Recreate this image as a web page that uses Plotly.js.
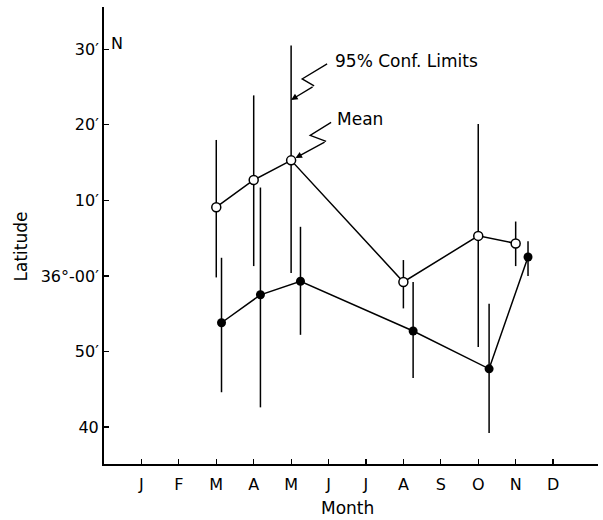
<!DOCTYPE html>
<html>
<head>
<meta charset="utf-8">
<script src="https://cdn.plot.ly/plotly-3.0.1.min.js"></script>
<style>html,body{margin:0;padding:0;background:#fff;}#chart{width:603px;height:520px;}</style>
</head>
<body>
<div id="chart"></div>
<script>
// Month positions (1 = Jan ... 12 = Dec)
var monthTicks = [1,2,3,4,5,6,7,8,9,10,11,12];
var monthLabels = ['J','F','M','A','M','J','J','A','S','O','N','D'];

// Latitude in minutes relative to 36°00'N
var latTicks = [-20,-10,0,10,20,30];
var latLabels = ['40','50\u2032','36\u00b0-00\u2032','10\u2032','20\u2032','30\u2032'];

// Open circles series
var openX     = [3, 4, 5, 8, 10, 11];
var openMean  = [9.1, 12.7, 15.3, -0.8, 5.3, 4.3];
var openUpper = [18.0, 23.9, 30.5, 2.1, 20.1, 7.2];
var openLower = [-0.2, 1.3, 0.4, -4.3, -9.4, 1.3];

// Filled circles series
var fillX     = [3.14, 4.18, 5.25, 8.26, 10.29, 11.33];
var fillMean  = [-6.2, -2.5, -0.7, -7.3, -12.3, 2.5];
var fillUpper = [2.4, 11.7, 6.5, -0.8, -3.7, 4.6];
var fillLower = [-15.4, -17.4, -7.8, -13.5, -20.8, 0.0];

function plus(m, u){ return m.map(function(v,i){ return u[i]-v; }); }
function minus(m, l){ return m.map(function(v,i){ return v-l[i]; }); }

var FONT = 'DejaVu Sans';
var W = 603, H = 520;
var margin = {l:104, r:5, t:7, b:56};
var xr = [0, 13.2], yr = [-24.9, 35.6];
var pxX = (W - margin.l - margin.r) / (xr[1]-xr[0]);
var pxY = (H - margin.t - margin.b) / (yr[1]-yr[0]);
function off(x0, y0, dx, dy){ return [x0 + dx/pxX, y0 - dy/pxY]; }

var traces = [
  {
    x: openX, y: openMean, type:'scatter', mode:'lines+markers',
    line:{color:'#000', width:1.5},
    marker:{symbol:'circle', size:9, color:'#fff', line:{color:'#000', width:1.5}},
    error_y:{type:'data', symmetric:false, array:plus(openMean, openUpper), arrayminus:minus(openMean, openLower),
             color:'#000', thickness:1.5, width:0},
    showlegend:false, hoverinfo:'skip'
  },
  {
    x: fillX, y: fillMean, type:'scatter', mode:'lines+markers',
    line:{color:'#000', width:1.5},
    marker:{symbol:'circle', size:9, color:'#000'},
    error_y:{type:'data', symmetric:false, array:plus(fillMean, fillUpper), arrayminus:minus(fillMean, fillLower),
             color:'#000', thickness:1.5, width:0},
    showlegend:false, hoverinfo:'skip'
  }
];

// Callout anchors: May open-circle mean and its upper confidence bar
var mx = openX[2], my = openMean[2];
var cy = (openMean[2] + openUpper[2]) / 2 + 0.4;

function pathFrom(x0, y0, pts){
  return pts.map(function(p, i){
    var q = off(x0, y0, p[0], p[1]);
    return (i===0 ? 'M ' : 'L ') + q[0] + ' ' + q[1];
  }).join(' ');
}

var shapes = [
  {type:'path', xref:'x', yref:'y', line:{color:'#000', width:1.3},
   path: pathFrom(mx, cy, [[23,-14],[11,-21],[36,-36]])},
  {type:'path', xref:'x', yref:'y', line:{color:'#000', width:1.3},
   path: pathFrom(mx, my, [[35,-19],[19,-25],[40,-38]])}
];

var annotations = [
  {x:mx, y:cy, xref:'x', yref:'y', text:'', showarrow:true, arrowhead:2, arrowsize:1, arrowwidth:1.3,
   arrowcolor:'#000', ax:23, ay:-14, standoff:0},
  {x:mx, y:my, xref:'x', yref:'y', text:'', showarrow:true, arrowhead:2, arrowsize:1, arrowwidth:1.3,
   arrowcolor:'#000', ax:35, ay:-19, standoff:5},
  {x:mx, y:cy, xref:'x', yref:'y', text:'95% Conf. Limits', showarrow:false, xanchor:'left', yanchor:'middle',
   xshift:42, yshift:39, font:{family:FONT, size:17, color:'#000'}},
  {x:mx, y:my, xref:'x', yref:'y', text:'Mean', showarrow:false, xanchor:'left', yanchor:'middle',
   xshift:44, yshift:41, font:{family:FONT, size:17, color:'#000'}},
  {x:0, y:30, xref:'x', yref:'y', text:'N', showarrow:false, xanchor:'left', yanchor:'middle',
   xshift:5, yshift:6, font:{family:FONT, size:16, color:'#000'}},
  {x:-0.169, y:0.475, xref:'paper', yref:'paper', text:'Latitude', showarrow:false, textangle:-90,
   xanchor:'center', yanchor:'middle', font:{family:FONT, size:17, color:'#000'}},
  {x:0.492, y:-0.097, xref:'paper', yref:'paper', text:'Month', showarrow:false,
   xanchor:'center', yanchor:'middle', font:{family:FONT, size:17, color:'#000'}}
];

var layout = {
  width:W, height:H, margin:margin,
  paper_bgcolor:'#fff', plot_bgcolor:'#fff',
  font:{family:FONT, color:'#000'},
  xaxis:{range:xr, showgrid:false, zeroline:false, showline:true, linecolor:'#000', linewidth:2,
         ticks:'inside', ticklen:5, tickwidth:1.2, tickcolor:'#000',
         tickmode:'array', tickvals:monthTicks, ticktext:monthLabels,
         tickfont:{family:FONT, size:16, color:'#000'}, ticklabelstandoff:5, fixedrange:true},
  yaxis:{range:yr, showgrid:false, zeroline:false, showline:true, linecolor:'#000', linewidth:2,
         ticks:'inside', ticklen:5, tickwidth:1.2, tickcolor:'#000',
         tickmode:'array', tickvals:latTicks, ticktext:latLabels,
         tickfont:{family:FONT, size:16, color:'#000'}, ticklabelstandoff:0, fixedrange:true},
  shapes:shapes, annotations:annotations, showlegend:false
};

Plotly.newPlot('chart', traces, layout, {staticPlot:true, displayModeBar:false});
</script>
</body>
</html>
